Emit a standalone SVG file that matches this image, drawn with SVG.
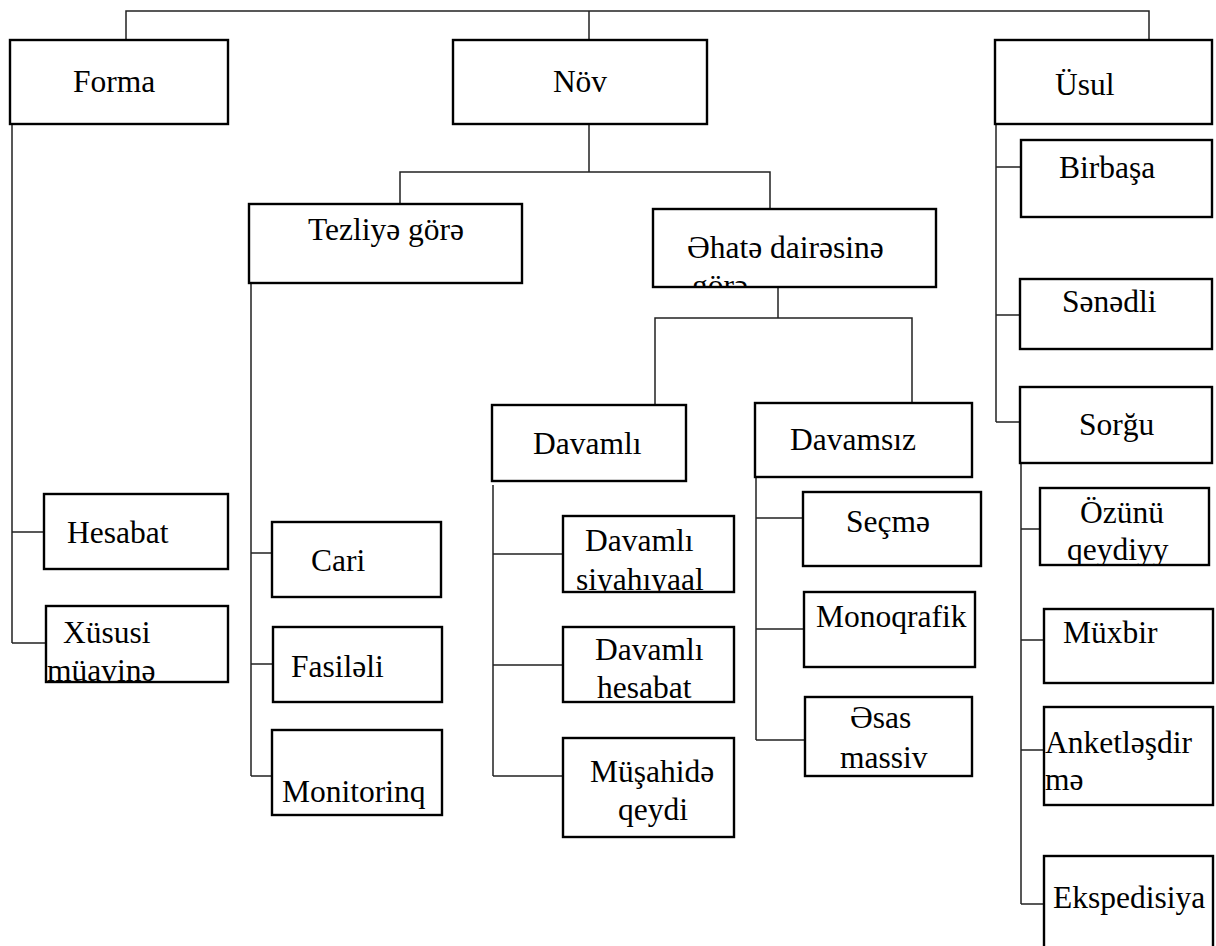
<svg xmlns="http://www.w3.org/2000/svg" width="1216" height="946" viewBox="0 0 1216 946" font-family="'Liberation Serif', 'Times New Roman', 'DejaVu Serif', serif">
<style>
.box{fill:#fff;stroke:#000;stroke-width:2.4}
.con{fill:none;stroke:#222;stroke-width:1.5}
text{font-family:'Liberation Serif','Times New Roman','DejaVu Serif',serif;font-size:31.5px;fill:#000}
.m{text-anchor:middle}
</style>
<defs>
<clipPath id="cAhata" clipPathUnits="userSpaceOnUse"><rect x="653" y="209" width="283" height="78"/></clipPath>
<clipPath id="cXus" clipPathUnits="userSpaceOnUse"><rect x="46" y="606" width="182" height="76"/></clipPath>
<clipPath id="cSiy" clipPathUnits="userSpaceOnUse"><rect x="563" y="516" width="171" height="76"/></clipPath>
<clipPath id="cHes" clipPathUnits="userSpaceOnUse"><rect x="563" y="627" width="171" height="75"/></clipPath>
<clipPath id="cOz" clipPathUnits="userSpaceOnUse"><rect x="1040" y="488" width="169" height="77"/></clipPath>
</defs>
<rect width="1216" height="946" fill="#fff"/>
<g id="connectors" class="con">
<path d="M126,40 V11 H1149 V40 M589,11 V40"/>
<path d="M589,124 V172 M400,204 V172 H770 V209"/>
<path d="M778,287 V318 M655,405 V318 H912 V403"/>
<path d="M12,100 V643 M12,532 H44 M12,643 H46"/>
<path d="M251,283 V776 M251,553 H272 M251,664 H273 M251,776 H272"/>
<path d="M493,485 V776 M493,554 H563 M493,665 H563 M493,776 H563"/>
<path d="M756,477 V740 M756,518 H803 M756,629 H804 M756,740 H805"/>
<path d="M996,100 V422 M996,167 H1021 M996,315 H1020 M996,422 H1020"/>
<path d="M1021,463 V904 M1021,529 H1040 M1021,640 H1044 M1021,750 H1044 M1021,904 H1044"/>
</g>
<g id="forma"><rect class="box" x="10" y="40" width="218" height="84"/><text x="73" y="92">Forma</text></g>
<g id="nov"><rect class="box" x="453" y="40" width="254" height="84"/><text class="m" x="580" y="92">Növ</text></g>
<g id="usul"><rect class="box" x="995" y="40" width="217" height="84"/><text x="1055" y="95">Üsul</text></g>
<g id="tezliye"><rect class="box" x="249" y="204" width="273" height="79"/><text x="308" y="240">Tezliyə görə</text></g>
<g id="ahate"><rect class="box" x="653" y="209" width="283" height="78"/><g clip-path="url(#cAhata)"><text x="687" y="258">Əhatə dairəsinə</text><text x="692" y="296">görə</text></g></g>
<g id="davamli"><rect class="box" x="492" y="405" width="194" height="76"/><text x="533" y="454">Davamlı</text></g>
<g id="davamsiz"><rect class="box" x="755" y="403" width="217" height="74"/><text x="790" y="450">Davamsız</text></g>
<g id="hesabat"><rect class="box" x="44" y="494" width="184" height="75"/><text x="67" y="543">Hesabat</text></g>
<g id="xususi"><rect class="box" x="46" y="606" width="182" height="76"/><g clip-path="url(#cXus)"><text x="63" y="643">Xüsusi</text><text x="47" y="681">müavinə</text></g></g>
<g id="cari"><rect class="box" x="272" y="522" width="169" height="75"/><text x="311" y="571">Cari</text></g>
<g id="fasileli"><rect class="box" x="273" y="627" width="169" height="75"/><text x="291" y="677">Fasiləli</text></g>
<g id="monitorinq"><rect class="box" x="272" y="730" width="170" height="85"/><text x="282" y="802">Monitorinq</text></g>
<g id="siyahiyaal"><rect class="box" x="563" y="516" width="171" height="76"/><g clip-path="url(#cSiy)"><text x="585" y="551">Davamlı</text><text x="576" y="590">siyahıyaal</text></g></g>
<g id="dhesabat"><rect class="box" x="563" y="627" width="171" height="75"/><g clip-path="url(#cHes)"><text x="595" y="660">Davamlı</text><text x="597" y="698">hesabat</text></g></g>
<g id="musahide"><rect class="box" x="563" y="738" width="171" height="99"/><text x="590" y="782">Müşahidə</text><text x="618" y="820">qeydi</text></g>
<g id="secme"><rect class="box" x="803" y="492" width="178" height="74"/><text x="846" y="532">Seçmə</text></g>
<g id="monoqrafik"><rect class="box" x="804" y="592" width="171" height="75"/><text x="816" y="627">Monoqrafik</text></g>
<g id="esas"><rect class="box" x="805" y="697" width="167" height="79"/><text x="850" y="728">Əsas</text><text x="840" y="768">massiv</text></g>
<g id="birbasa"><rect class="box" x="1021" y="140" width="191" height="77"/><text x="1059" y="178">Birbaşa</text></g>
<g id="senedli"><rect class="box" x="1020" y="279" width="192" height="70"/><text x="1062" y="312">Sənədli</text></g>
<g id="sorgu"><rect class="box" x="1020" y="387" width="192" height="76"/><text x="1079" y="435">Sorğu</text></g>
<g id="ozunu"><rect class="box" x="1040" y="488" width="169" height="77"/><g clip-path="url(#cOz)"><text x="1080" y="523">Özünü</text><text x="1067" y="560">qeydiyy</text></g></g>
<g id="muxbir"><rect class="box" x="1044" y="609" width="169" height="74"/><text x="1063" y="643">Müxbir</text></g>
<g id="anket"><rect class="box" x="1044" y="707" width="169" height="98"/><text x="1045" y="753">Anketləşdir</text><text x="1045" y="790">mə</text></g>
<g id="ekspedisiya"><rect class="box" x="1044" y="856" width="169" height="100"/><text x="1053" y="908">Ekspedisiya</text></g>
</svg>
